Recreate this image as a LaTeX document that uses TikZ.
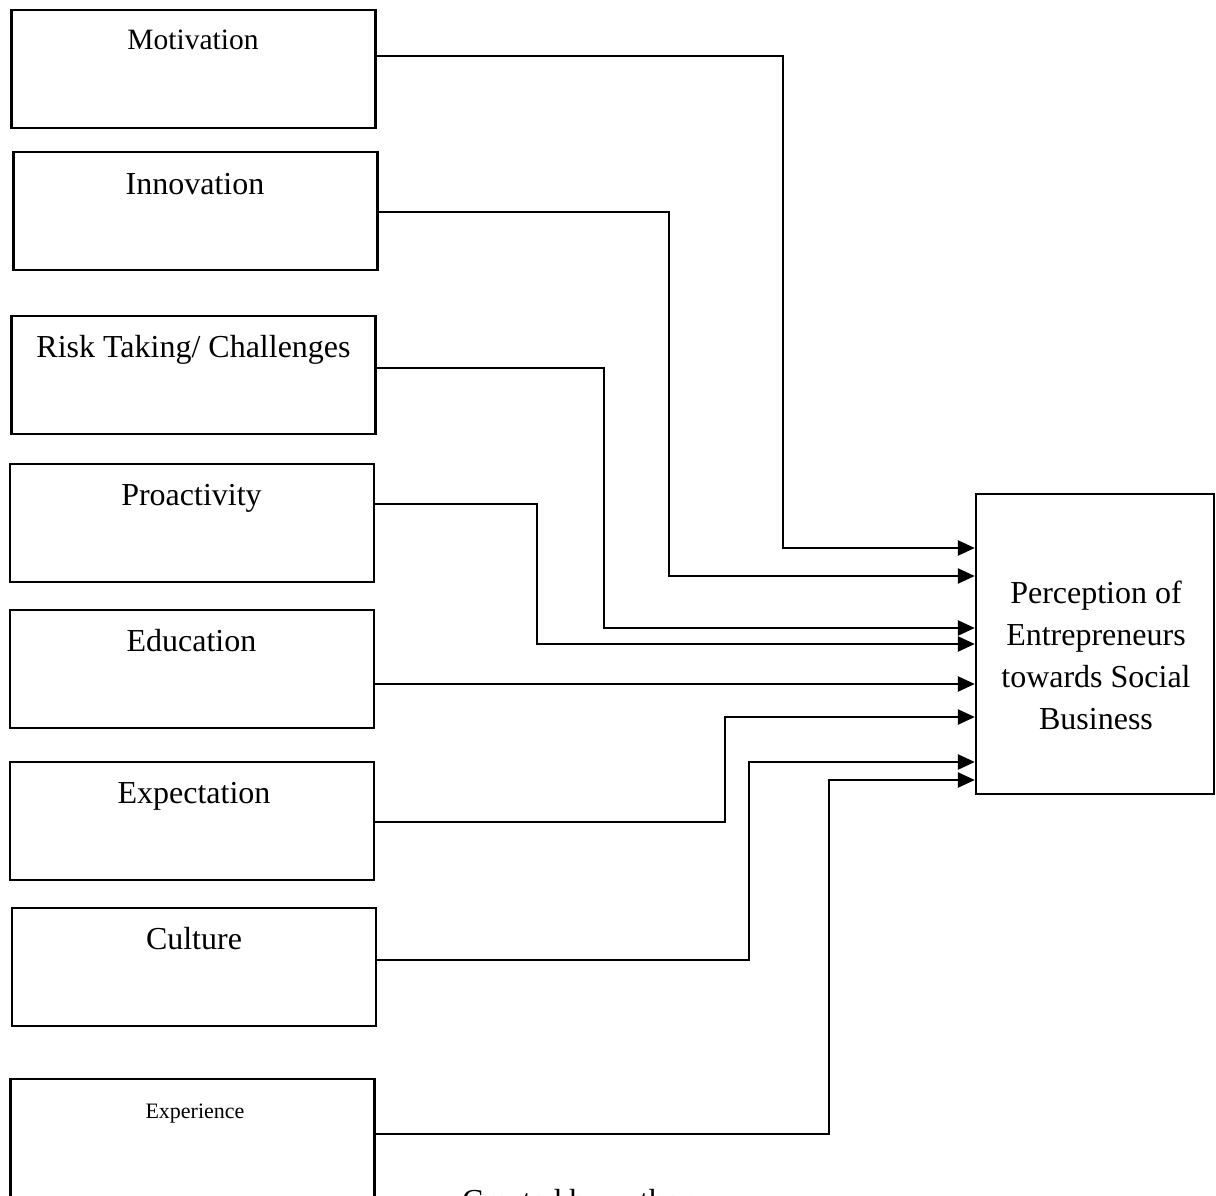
\documentclass[tikz,border=0pt]{standalone}
\usepackage{fontspec}
\setmainfont{Liberation Serif}
\usetikzlibrary{arrows.meta,positioning}

\tikzset{
  factor/.style={draw, line width=2.3pt, minimum width=364pt, minimum height=118pt, inner sep=0pt},
  boxtitle/.style={anchor=base, inner sep=0pt, font=\fontsize{32}{38}\selectfont},
  target/.style={draw, line width=2.3pt, minimum width=238pt, minimum height=300pt, inner sep=0pt},
  conn/.style={line width=2.4pt, -{Triangle[length=17pt, width=15pt]}},
}

\begin{document}
\begin{tikzpicture}[x=1pt, y=-1pt]
  \useasboundingbox (0,0) rectangle (1216,1196);
  \clip (0,0) rectangle (1216,1196);

  % factor boxes on the left
  \node[factor] (mot)  at (193.5,69)   {};
  \node[factor] (inn)  at (195.5,211)  {};
  \node[factor] (risk) at (193.5,375)  {};
  \node[factor] (pro)  at (192,523)    {};
  \node[factor] (edu)  at (192,669)    {};
  \node[factor] (expc) at (192,821)    {};
  \node[factor] (cul)  at (194,967)    {};
  \node[factor] (expr) at (192.5,1138) {};

  % box titles
  \node[boxtitle, font=\fontsize{29.5}{34}\selectfont] (tmot) at (193,50) {Motivation};
  \node[boxtitle] (tinn)  at (195,194)  {Innovation};
  \node[boxtitle] (trisk) at (193.5,357) {Risk Taking/ Challenges};
  \node[boxtitle] (tpro)  at (191.5,505) {Proactivity};
  \node[boxtitle] (tedu)  at (191.5,651) {Education};
  \node[boxtitle] (texpc) at (194,803)  {Expectation};
  \node[boxtitle] (tcul)  at (194,949)  {Culture};
  \node[boxtitle, font=\fontsize{22}{26}\selectfont] (texpr) at (195,1118) {Experience};

  % outcome box
  \node[target] (per) at (1095,644) {};
  \node[align=center, inner sep=0pt, font=\fontsize{32}{42}\selectfont] (tper) at (1096,655)
    {Perception of\\Entrepreneurs\\towards Social\\Business};

  % connectors
  \draw[conn] (mot.east |- 0,56)   -| (783,548) -- (per.west |- 0,548);
  \draw[conn] (inn.east |- 0,212)  -| (669,576) -- (per.west |- 0,576);
  \draw[conn] (risk.east |- 0,368) -| (604,628) -- (per.west |- 0,628);
  \draw[conn] (pro.east |- 0,504)  -| (537,644) -- (per.west |- 0,644);
  \draw[conn] (edu.east |- 0,684)  -- (per.west |- 0,684);
  \draw[conn] (expc.east |- 0,822) -| (725,717) -- (per.west |- 0,717);
  \draw[conn] (cul.east |- 0,960)  -| (749,762) -- (per.west |- 0,762);
  \draw[conn] (expr.east |- 0,1134) -| (829,780) -- (per.west |- 0,780);

  % source note
  \node[anchor=base west, inner sep=0pt, font=\fontsize{32}{38}\selectfont] (src) at (462,1211) {Created by author};
\end{tikzpicture}
\end{document}
